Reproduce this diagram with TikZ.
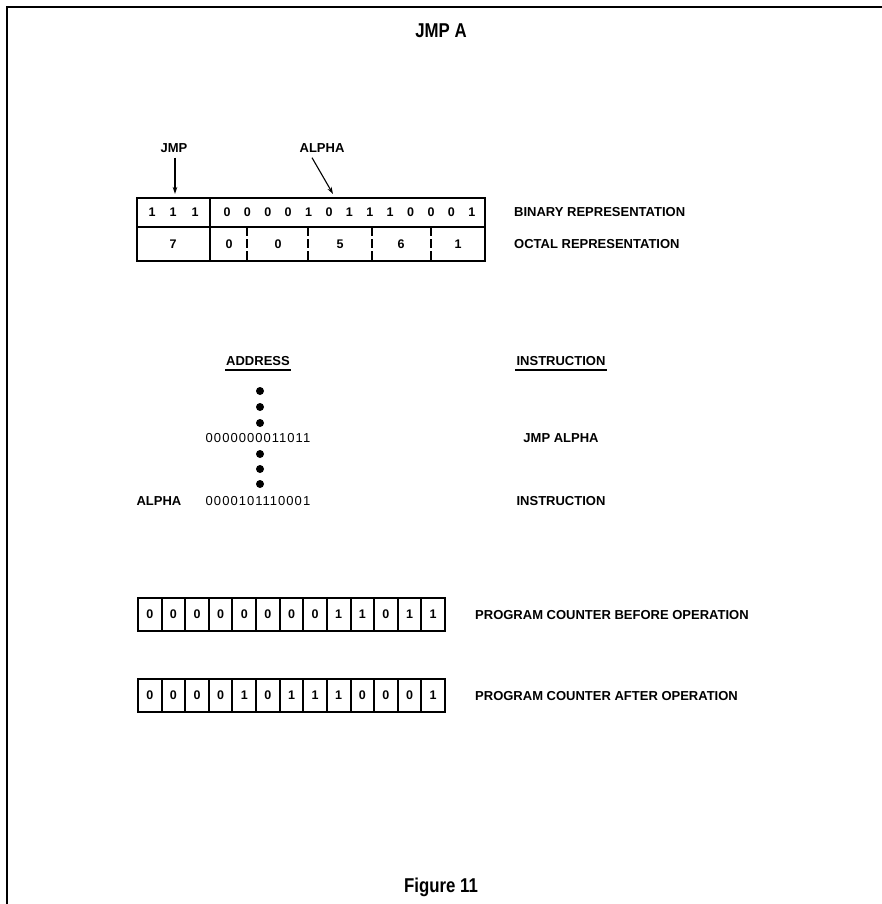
\documentclass[tikz,border=0pt]{standalone}
\usepackage{fontspec}
\usepackage{graphicx}
\setmainfont{Liberation Sans}
\newfontfamily\digfont[LetterSpace=8]{Liberation Sans}
\usetikzlibrary{arrows.meta,calc}
\begin{document}
\begin{tikzpicture}[x=1pt,y=-1pt,
  lbl/.style={font=\fontsize{13}{15}\selectfont\bfseries, inner sep=0pt, anchor=west},
  clbl/.style={font=\fontsize{13}{15}\selectfont\bfseries, inner sep=0pt},
  dig/.style={font=\fontsize{12.5}{15}\selectfont\bfseries, inner sep=0pt},
  addr/.style={font=\fontsize{13}{15}\selectfont\digfont, inner sep=0pt},
  ttl/.style={font=\fontsize{20}{24}\selectfont\bfseries, inner sep=0pt, text depth=0pt},
  heavy/.style={line width=2.2pt},
  octdash/.style={line width=2pt, dash pattern=on 9pt off 3pt},
  arr/.style={line width=1.1pt, -{Stealth[length=7pt,width=4.5pt]}},
  cellbox/.style={draw, line width=2pt, minimum width=23.6pt, minimum height=33pt, inner sep=0pt, font=\fontsize{12.5}{15}\selectfont\bfseries},
  bigdot/.style={circle, fill=black, inner sep=0pt, minimum size=8pt}
]
\useasboundingbox (0,0) rectangle (882,904);
% frame
\draw[line width=2pt] (7,904) -- (7,7) -- (882,7);
% title
\node[ttl] (title) at (441,31) {\scalebox{0.84}[1]{JMP A}};

% top register
\draw[heavy] (137,198) rectangle (485,261);
\draw[heavy] (137,227) -- (485,227);
\draw[heavy] (210,198) -- (210,261);
\foreach \x in {247,308,372,431} \draw[octdash] (\x,227) -- (\x,261);
\node[dig] (j1) at (152,212.5) {1};
\node[dig] (j2) at (173,212.5) {1};
\node[dig] (j3) at (195,212.5) {1};
\foreach \b [count=\i from 0] in {0,0,0,0,1,0,1,1,1,0,0,0,1}
  \node[dig] (bit\i) at (227+\i*20.4,212.5) {\b};
\node[dig] (o1) at (173,244) {7};
\node[dig] (o2) at (229,244) {0};
\node[dig] (o3) at (278,244) {0};
\node[dig] (o4) at (340,244) {5};
\node[dig] (o5) at (401,244) {6};
\node[dig] (o6) at (458,244) {1};
\node[lbl] (binlbl) at (514,212.5) {BINARY REPRESENTATION};
\node[lbl] (octlbl) at (514,244) {OCTAL REPRESENTATION};

% field labels with arrows
\node[clbl] (jmplbl) at (174,148) {JMP};
\node[clbl] (alphalbl) at (322,148) {ALPHA};
\coordinate (jmptip) at (175,194);
\coordinate (alphatip) at (333,194);
\draw[arr] ([yshift=-5pt]jmplbl.south -| jmptip) -- (jmptip);
\draw[arr] ([xshift=-10pt,yshift=-5pt]alphalbl.south) -- (alphatip);

% memory listing
\node[clbl] (addrhdr) at (258,361) {ADDRESS};
\node[clbl] (insthdr) at (561,361) {INSTRUCTION};
\draw[line width=1.5pt] ([xshift=-1pt,yshift=-4pt]addrhdr.south west) -- ([xshift=1pt,yshift=-4pt]addrhdr.south east);
\draw[line width=1.5pt] ([xshift=-1pt,yshift=-4pt]insthdr.south west) -- ([xshift=1pt,yshift=-4pt]insthdr.south east);
\foreach \y [count=\i] in {391,407,423,454,469,484}
  \node[bigdot] (dot\i) at (260,\y) {};
\node[addr] (a1) at (258,438) {0000000011011};
\node[clbl] (i1) at (561,438) {JMP ALPHA};
\node[clbl] (alpha2) at (159,501) {ALPHA};
\node[addr] (a2) at (258,501) {0000101110001};
\node[clbl] (i2) at (561,501) {INSTRUCTION};

% program counter before
\foreach \b [count=\i from 0] in {0,0,0,0,0,0,0,0,1,1,0,1,1}
  \node[cellbox] (pcb\i) at (149.8+\i*23.615,614.5) {\b};
\node[lbl] (pcblbl) at (475,615) {PROGRAM COUNTER BEFORE OPERATION};

% program counter after
\foreach \b [count=\i from 0] in {0,0,0,0,1,0,1,1,1,0,0,0,1}
  \node[cellbox] (pca\i) at (149.8+\i*23.615,695.5) {\b};
\node[lbl] (pcalbl) at (475,696) {PROGRAM COUNTER AFTER OPERATION};

% caption
\node[ttl] (caption) at (441,885) {\scalebox{0.84}[1]{Figure 11}};
\end{tikzpicture}
\end{document}
